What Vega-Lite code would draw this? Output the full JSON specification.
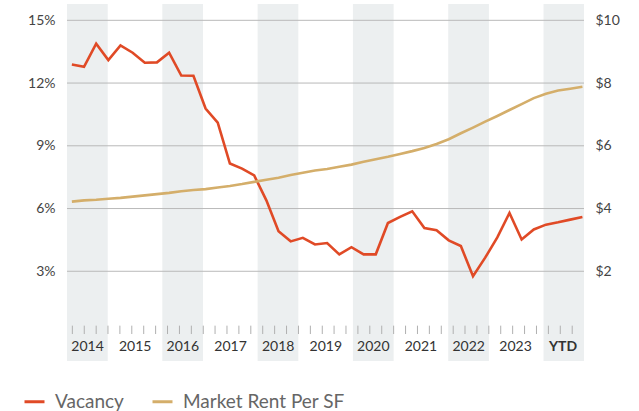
{
  "$schema": "https://vega.github.io/schema/vega-lite/v6.json",
  "width": 517,
  "height": 357,
  "autosize": "none",
  "padding": {"left": 67, "top": 4, "right": 55, "bottom": 50},
  "config": {"view": {"stroke": null}, "font": "Lato"},
  "datasets": {
    "series": [
      {"q": 0, "vac": 12.89, "rent": 4.22},
      {"q": 1, "vac": 12.78, "rent": 4.26},
      {"q": 2, "vac": 13.88, "rent": 4.28},
      {"q": 3, "vac": 13.1, "rent": 4.31},
      {"q": 4, "vac": 13.8, "rent": 4.34},
      {"q": 5, "vac": 13.45, "rent": 4.38},
      {"q": 6, "vac": 12.97, "rent": 4.42},
      {"q": 7, "vac": 12.99, "rent": 4.46},
      {"q": 8, "vac": 13.45, "rent": 4.5},
      {"q": 9, "vac": 12.36, "rent": 4.55},
      {"q": 10, "vac": 12.35, "rent": 4.59},
      {"q": 11, "vac": 10.78, "rent": 4.62},
      {"q": 12, "vac": 10.11, "rent": 4.67},
      {"q": 13, "vac": 8.15, "rent": 4.72},
      {"q": 14, "vac": 7.91, "rent": 4.78},
      {"q": 15, "vac": 7.58, "rent": 4.85},
      {"q": 16, "vac": 6.39, "rent": 4.92},
      {"q": 17, "vac": 4.91, "rent": 4.98},
      {"q": 18, "vac": 4.43, "rent": 5.07},
      {"q": 19, "vac": 4.6, "rent": 5.14},
      {"q": 20, "vac": 4.28, "rent": 5.21},
      {"q": 21, "vac": 4.35, "rent": 5.26},
      {"q": 22, "vac": 3.81, "rent": 5.33},
      {"q": 23, "vac": 4.15, "rent": 5.4},
      {"q": 24, "vac": 3.81, "rent": 5.49},
      {"q": 25, "vac": 3.81, "rent": 5.57},
      {"q": 26, "vac": 5.31, "rent": 5.65},
      {"q": 27, "vac": 5.6, "rent": 5.74},
      {"q": 28, "vac": 5.87, "rent": 5.83},
      {"q": 29, "vac": 5.07, "rent": 5.93},
      {"q": 30, "vac": 4.96, "rent": 6.06},
      {"q": 31, "vac": 4.48, "rent": 6.21},
      {"q": 32, "vac": 4.21, "rent": 6.4},
      {"q": 33, "vac": 2.76, "rent": 6.58},
      {"q": 34, "vac": 3.65, "rent": 6.77},
      {"q": 35, "vac": 4.62, "rent": 6.95},
      {"q": 36, "vac": 5.79, "rent": 7.14},
      {"q": 37, "vac": 4.52, "rent": 7.33},
      {"q": 38, "vac": 5.0, "rent": 7.52},
      {"q": 39, "vac": 5.23, "rent": 7.66},
      {"q": 40, "vac": 5.34, "rent": 7.76},
      {"q": 41, "vac": 5.47, "rent": 7.82},
      {"q": 42, "vac": 5.6, "rent": 7.88}
    ],
    "bands": [
      {"x0": -0.4, "x1": 2.95},
      {"x0": 7.44, "x1": 10.79},
      {"x0": 15.28, "x1": 18.63},
      {"x0": 23.12, "x1": 26.47},
      {"x0": 30.96, "x1": 34.31},
      {"x0": 38.8, "x1": 42.13}
    ],
    "years": [
      {"c": 1.29, "label": "2014"},
      {"c": 5.21, "label": "2015"},
      {"c": 9.13, "label": "2016"},
      {"c": 13.05, "label": "2017"},
      {"c": 16.97, "label": "2018"},
      {"c": 20.89, "label": "2019"},
      {"c": 24.8, "label": "2020"},
      {"c": 28.72, "label": "2021"},
      {"c": 32.64, "label": "2022"},
      {"c": 36.5, "label": "2023"},
      {"c": 40.4, "label": "YTD"}
    ],
    "ticks": [
      {"t": 0.04}, {"t": 1.02}, {"t": 2.0}, {"t": 2.97}, {"t": 3.95}, {"t": 4.93}, {"t": 5.91}, {"t": 6.89},
      {"t": 7.87}, {"t": 8.85}, {"t": 9.83}, {"t": 10.81}, {"t": 11.78}, {"t": 12.76}, {"t": 13.74}, {"t": 14.72},
      {"t": 15.7}, {"t": 16.68}, {"t": 17.66}, {"t": 18.64}, {"t": 19.62}, {"t": 20.6}, {"t": 21.57}, {"t": 22.55},
      {"t": 23.53}, {"t": 24.51}, {"t": 25.49}, {"t": 26.47}, {"t": 27.45}, {"t": 28.43}, {"t": 29.41}, {"t": 30.39},
      {"t": 31.37}, {"t": 32.34}, {"t": 33.32}, {"t": 34.3}, {"t": 35.28}, {"t": 36.26}, {"t": 37.24}, {"t": 38.22},
      {"t": 39.2}, {"t": 40.18}, {"t": 41.16}
    ],
    "grid": [{"v": 3}, {"v": 6}, {"v": 9}, {"v": 12}, {"v": 15}]
  },
  "layer": [
    {
      "data": {"name": "bands"},
      "mark": {"type": "rect", "color": "#eceff0"},
      "encoding": {
        "x": {"field": "x0", "type": "quantitative", "scale": {"domain": [-0.4, 42.13], "nice": false, "zero": false}, "axis": null},
        "x2": {"field": "x1"}
      }
    },
    {
      "layer": [
        {
          "data": {"name": "grid"},
          "mark": {"type": "rule", "color": "#b9b9b9", "strokeWidth": 1},
          "encoding": {
            "y": {
              "field": "v", "type": "quantitative",
              "scale": {"domain": [-1.29, 15.78], "nice": false, "zero": false},
              "axis": {"values": [3, 6, 9, 12, 15], "labelExpr": "datum.value + '%'", "title": null, "domain": false, "ticks": false, "grid": false, "labelPadding": 12, "labelFontSize": 14, "labelColor": "#444"}
            }
          }
        },
        {
          "data": {"name": "ticks"},
          "mark": {"type": "rule", "color": "#b0b0b0", "strokeWidth": 1},
          "encoding": {
            "x": {"field": "t", "type": "quantitative", "scale": {"domain": [-0.4, 42.13], "nice": false, "zero": false}, "axis": null},
            "y": {"datum": 0, "type": "quantitative"},
            "y2": {"datum": 0.4}
          }
        },
        {
          "data": {"name": "years"},
          "transform": [{"filter": "datum.label !== 'YTD'"}],
          "mark": {"type": "text", "fontSize": 14, "color": "#333", "baseline": "middle", "align": "center"},
          "encoding": {
            "x": {"field": "c", "type": "quantitative", "scale": {"domain": [-0.4, 42.13], "nice": false, "zero": false}, "axis": null},
            "y": {"datum": -0.62, "type": "quantitative"},
            "text": {"field": "label"}
          }
        },
        {
          "data": {"name": "years"},
          "transform": [{"filter": "datum.label === 'YTD'"}],
          "mark": {"type": "text", "fontSize": 14, "fontWeight": "bold", "color": "#333", "baseline": "middle", "align": "center"},
          "encoding": {
            "x": {"field": "c", "type": "quantitative", "scale": {"domain": [-0.4, 42.13], "nice": false, "zero": false}, "axis": null},
            "y": {"datum": -0.62, "type": "quantitative"},
            "text": {"field": "label"}
          }
        },
        {
          "data": {"name": "series"},
          "mark": {"type": "line", "strokeWidth": 2.6, "strokeJoin": "miter"},
          "encoding": {
            "x": {"field": "q", "type": "quantitative", "scale": {"domain": [-0.4, 42.13], "nice": false, "zero": false}, "axis": null},
            "y": {"field": "vac", "type": "quantitative"},
            "color": {
              "datum": "Vacancy",
              "scale": {"domain": ["Vacancy", "Market Rent Per SF"], "range": ["#e04a26", "#d4ae6a"]},
              "legend": {"orient": "none", "legendX": -44, "legendY": 386, "direction": "horizontal", "symbolType": "stroke", "symbolStrokeWidth": 3, "symbolSize": 400, "labelFontSize": 19, "labelColor": "#666", "labelLimit": 400, "columnPadding": 22, "labelOffset": 9, "title": null}
            }
          }
        }
      ]
    },
    {
      "data": {"name": "series"},
      "mark": {"type": "line", "strokeWidth": 2.6},
      "encoding": {
        "x": {"field": "q", "type": "quantitative", "scale": {"domain": [-0.4, 42.13], "nice": false, "zero": false}, "axis": null},
        "y": {
          "field": "rent", "type": "quantitative",
          "scale": {"domain": [-0.86, 10.52], "nice": false, "zero": false},
          "axis": {"orient": "right", "values": [2, 4, 6, 8, 10], "labelExpr": "'$' + datum.value", "title": null, "domain": false, "ticks": false, "grid": false, "labelPadding": 11, "labelFontSize": 14, "labelColor": "#444"}
        },
        "color": {"datum": "Market Rent Per SF"}
      }
    }
  ],
  "resolve": {"scale": {"y": "independent"}}
}
